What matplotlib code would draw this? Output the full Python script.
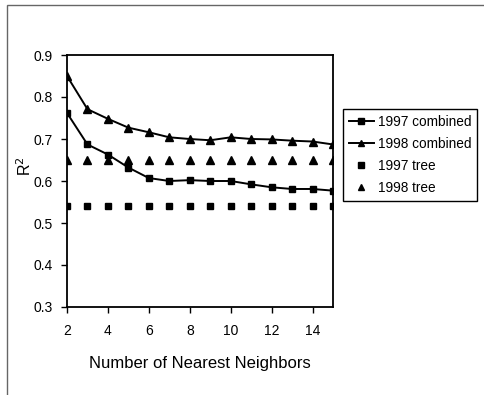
import matplotlib.pyplot as plt
from matplotlib.patches import Rectangle

plt.rcParams['font.family'] = ['Liberation Sans', 'DejaVu Sans']

# data
neighbors = [2, 3, 4, 5, 6, 7, 8, 9, 10, 11, 12, 13, 14, 15]
combined_1997 = [0.762, 0.687, 0.663, 0.632, 0.607, 0.600, 0.602, 0.600,
                 0.600, 0.592, 0.585, 0.581, 0.581, 0.577]
combined_1998 = [0.850, 0.771, 0.748, 0.727, 0.716, 0.704, 0.700, 0.697,
                 0.704, 0.700, 0.699, 0.696, 0.694, 0.687]
tree_1997 = [0.54] * len(neighbors)
tree_1998 = [0.65] * len(neighbors)

fig = plt.figure(figsize=(4.84, 3.95), dpi=100)
ax = fig.add_axes([67 / 484, 1 - 307 / 395, 266 / 484, 252 / 395])

ax.plot(neighbors, combined_1997, color='black', lw=1.4, marker='s', ms=5,
        label='1997 combined')
ax.plot(neighbors, combined_1998, color='black', lw=1.4, marker='^', ms=6,
        label='1998 combined')
ax.plot(neighbors, tree_1997, ls='none', color='black', marker='s', ms=5,
        label='1997 tree')
ax.plot(neighbors, tree_1998, ls='none', color='black', marker='^', ms=6,
        label='1998 tree')

ax.set_xlim(2, 15)
ax.set_ylim(0.3, 0.9)
ax.set_xticks([2, 4, 6, 8, 10, 12, 14])
ax.set_yticks([0.3, 0.4, 0.5, 0.6, 0.7, 0.8, 0.9])
ax.tick_params(direction='out', length=4, width=1, labelsize=10, color='black')
ax.tick_params(axis='x', pad=8)
ax.tick_params(axis='y', pad=6)
for s in ax.spines.values():
    s.set_linewidth(1.3)
ax.set_xlabel('Number of Nearest Neighbors', fontsize=12, labelpad=13)
ax.set_ylabel('R$^2$', fontsize=11.5)
ax.yaxis.set_label_coords(-0.125, 0.56)

fig.legend(loc='upper left', bbox_to_anchor=(343 / 484, 1 - 109 / 395),
           fontsize=9.8, frameon=True, fancybox=False, edgecolor='black',
           framealpha=1, labelspacing=0.58, handlelength=1.8,
           handletextpad=0.3, borderpad=0.45, borderaxespad=0,
           markerscale=0.8)

# outer chart frame (only top and left show in the scan)
fig.patches.append(Rectangle((7 / 484, -0.1), 1.1, 1 - 5 / 395 + 0.1,
                             transform=fig.transFigure, fill=False,
                             edgecolor='#666666', lw=1, figure=fig))

fig.savefig('out.png', dpi=100)
